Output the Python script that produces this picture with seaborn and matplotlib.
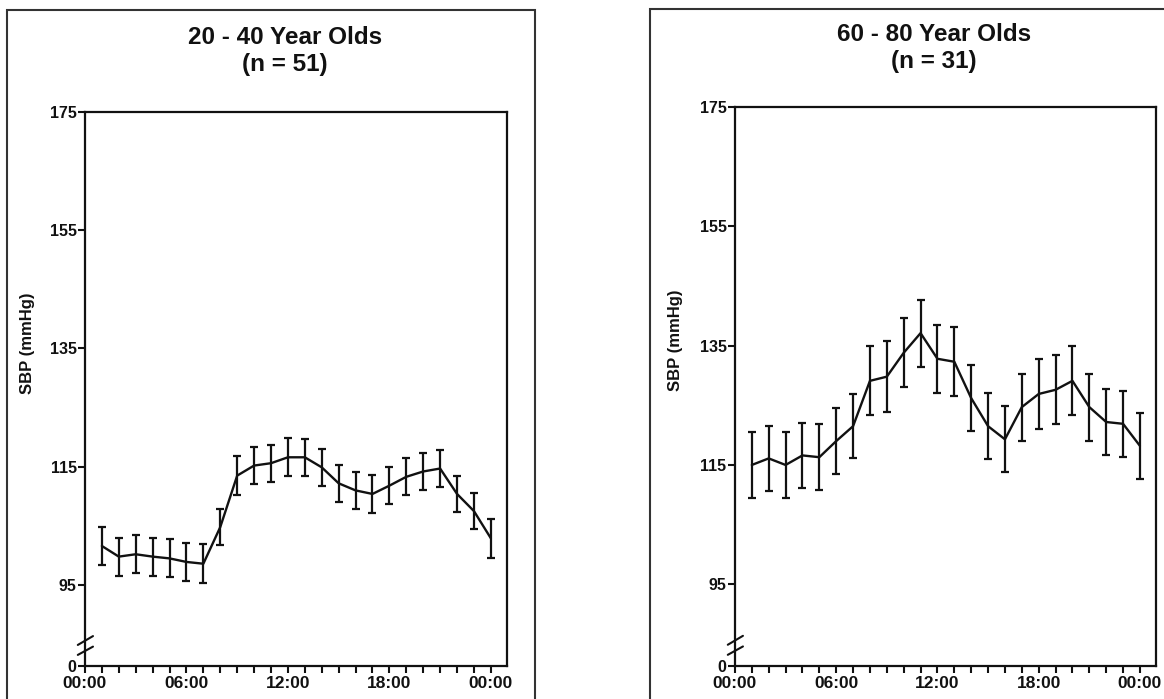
import numpy as np
import pandas as pd
import matplotlib
matplotlib.use("Agg")
import matplotlib.pyplot as plt
import seaborn as sns
from matplotlib.patches import Rectangle

# ---------------- data ----------------
hours = list(range(1, 25))

young_sbp = [101.6, 99.8, 100.2, 99.8, 99.5, 98.9, 98.6, 104.8, 113.5, 115.2, 115.6, 116.6,
             116.6, 114.9, 112.2, 111.0, 110.4, 111.8, 113.3, 114.2, 114.7, 110.4, 107.5, 102.9]
young_err = [3.2, 3.2, 3.2, 3.2, 3.2, 3.2, 3.3, 3.1, 3.3, 3.1, 3.1, 3.2,
             3.1, 3.1, 3.1, 3.1, 3.2, 3.1, 3.1, 3.1, 3.1, 3.1, 3.1, 3.3]

old_sbp = [115.0, 116.1, 115.0, 116.6, 116.3, 119.0, 121.5, 129.1, 129.8, 133.8, 137.1, 132.8,
           132.3, 126.2, 121.5, 119.3, 124.7, 126.9, 127.6, 129.1, 124.7, 122.2, 121.9, 118.2]
old_err = [5.5, 5.5, 5.5, 5.4, 5.5, 5.5, 5.4, 5.8, 5.9, 5.8, 5.6, 5.7,
           5.8, 5.5, 5.5, 5.5, 5.6, 5.8, 5.8, 5.8, 5.6, 5.5, 5.5, 5.5]

panel_titles = ["20 - 40 Year Olds\n(n = 51)", "60 - 80 Year Olds\n(n = 31)"]
y_label = "SBP (mmHg)"
x_major = [0, 6, 12, 18, 24]
x_major_labels = ["00:00", "06:00", "12:00", "18:00", "00:00"]
y_bottom = 81.3  # axis break: bottom of axis labelled "0"
y_ticks = [y_bottom, 95, 115, 135, 155, 175]
y_tick_labels = ["0", "95", "115", "135", "155", "175"]

# ---------------- style ----------------
sns.set_style("ticks")
plt.rcParams['font.family'] = ['Liberation Sans', 'DejaVu Sans']
plt.rcParams['font.weight'] = 'bold'

fig = plt.figure(figsize=(11.64, 6.99), dpi=100)

# outer frames
fig.patches.append(Rectangle((0.006, -0.05), 0.454, 1.0357, transform=fig.transFigure,
                             fill=False, edgecolor="#333333", linewidth=1.5))
fig.patches.append(Rectangle((0.5584, -0.05), 0.5, 1.037, transform=fig.transFigure,
                             fill=False, edgecolor="#333333", linewidth=1.5))

axes_pos = [[0.0730, 0.0472, 0.3625, 0.7926],
            [0.6314, 0.0472, 0.3617, 0.7997]]
title_x = [0.2448, 0.8024]
title_y = [1 - 26 / 699, 1 - 23 / 699]
label_x = [-0.118, -0.123]

datasets = [(young_sbp, young_err), (old_sbp, old_err)]

for i, (vals, errs) in enumerate(datasets):
    ax = fig.add_axes(axes_pos[i])
    df = pd.DataFrame({"hour": hours, "sbp": vals, "err": errs})
    sns.lineplot(data=df, x="hour", y="sbp", ax=ax, color="#111111", linewidth=1.7)
    ax.errorbar(df["hour"], df["sbp"], yerr=df["err"], fmt="none", ecolor="#111111",
                elinewidth=1.6, capsize=3, capthick=1.6)

    ax.set_xlim(0, 24.95)
    ax.set_ylim(y_bottom, 175)
    ax.set_xticks(x_major)
    ax.set_xticklabels(x_major_labels, fontsize=12.5, fontweight="bold")
    ax.set_xticks(range(0, 25), minor=True)
    ax.set_yticks(y_ticks)
    ax.set_yticklabels(y_tick_labels, fontsize=11.5, fontweight="bold")
    ax.tick_params(axis="both", which="both", direction="out", length=5, width=1.5,
                   color="#111111", labelcolor="#111111")
    ax.tick_params(axis="x", pad=2)
    ax.tick_params(axis="y", pad=1)
    for s in ax.spines.values():
        s.set_visible(True)
        s.set_linewidth(1.6)
        s.set_color("#111111")
    ax.set_xlabel("")
    ax.set_ylabel(y_label, fontsize=12, fontweight="bold", color="#111111")
    ax.yaxis.set_label_coords(label_x[i], 0.583)

    # axis-break marks on the y axis
    for y0, y1 in ((0.020, 0.035), (0.038, 0.054)):
        ax.plot([-0.017, 0.019], [y0, y1], transform=ax.transAxes,
                color="#111111", linewidth=1.5, clip_on=False)

    fig.text(title_x[i], title_y[i], panel_titles[i], ha="center", va="top",
             fontsize=17.5, fontweight="bold", color="#111111", linespacing=1.2)

fig.savefig("out.png", dpi=100, facecolor="white")
